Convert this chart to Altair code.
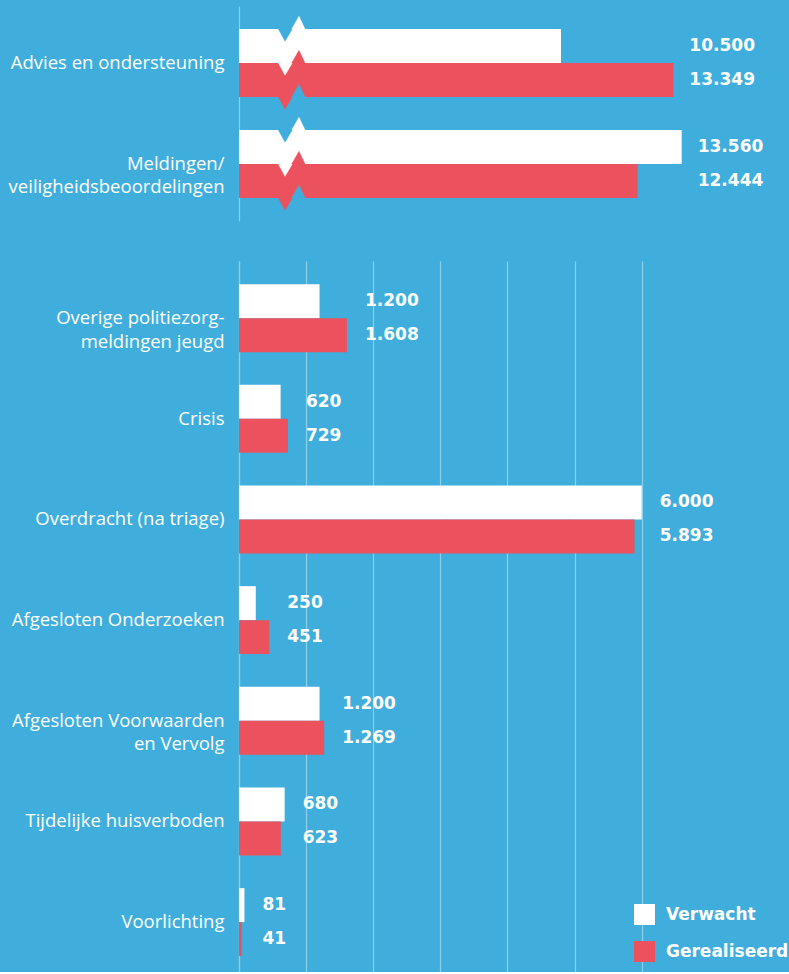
import altair as alt
import pandas as pd

BG = "#3FAEDC"
RED = "#EB525E"
WHITE = "#FFFFFF"
LINE = "#8ED0EC"
FONT = "Open Sans"
BOLD_FONT = "DejaVu Sans"

series = ["Verwacht", "Gerealiseerd"]

top_categories = ["Advies en ondersteuning", "Meldingen/\nveiligheidsbeoordelingen"]
top_verwacht = [10500, 13560]
top_gerealiseerd = [13349, 12444]

bottom_categories = [
    "Overige politiezorg-\nmeldingen jeugd",
    "Crisis",
    "Overdracht (na triage)",
    "Afgesloten Onderzoeken",
    "Afgesloten Voorwaarden\nen Vervolg",
    "Tijdelijke huisverboden",
    "Voorlichting",
]
bottom_verwacht = [1200, 620, 6000, 250, 1200, 680, 81]
bottom_gerealiseerd = [1608, 729, 5893, 451, 1269, 623, 41]

grid_values = [0, 1000, 2000, 3000, 4000, 5000, 6000]
top_domain = [2336, 16281]
bottom_domain = [0, 8194]
axis_break = 3680


def nl(v):
    return f"{v:,}".replace(",", ".")


def long_table(cats, verw, gereal):
    rows = []
    for c, a, b in zip(cats, verw, gereal):
        rows.append({"category": c, "series": series[0], "value": a, "label": nl(a)})
        rows.append({"category": c, "series": series[1], "value": b, "label": nl(b)})
    return pd.DataFrame(rows)


def y_axis():
    return alt.Axis(
        title=None, ticks=False, labelPadding=15, labelFont=FONT, labelFontSize=18.5,
        labelColor=WHITE, labelLineHeight=23.5, labelExpr="split(datum.label, '\\n')",
        domainColor=LINE, domainWidth=1.2, minExtent=239, maxExtent=239,
        labelLimit=0, grid=False,
    )


no_frame = alt.ViewBackground(stroke="transparent", strokeWidth=0)
color_scale = alt.Scale(domain=series, range=[WHITE, RED])
y_off = alt.YOffset("series:N", sort=series, scale=alt.Scale(domain=series))

# ---------------- top panel ----------------
top_df = long_table(top_categories, top_verwacht, top_gerealiseerd)
top_xscale = alt.Scale(domain=top_domain, nice=False, zero=False)
top_y = alt.Y("category:N", sort=top_categories, axis=y_axis(),
              scale=alt.Scale(paddingInner=0.327, paddingOuter=0.228, align=0.5))

top_bars = alt.Chart(top_df).mark_bar().encode(
    x=alt.X("value:Q", scale=top_xscale, axis=None),
    x2=alt.datum(top_domain[0]),
    y=top_y,
    yOffset=y_off,
    color=alt.Color("series:N", scale=color_scale, legend=None),
)

brk_df = pd.DataFrame({"category": top_categories, "brk": [axis_break] * len(top_categories)})
NOTCH = "M-13.7,0 L-7,12.3 L0.3,0 Z"
PEAK = "M-0.3,0 L7,-12.7 L13,0 Z"


def brk_layer(shape, col, off):
    return alt.Chart(brk_df).mark_point(
        shape=shape, size=4, filled=True, opacity=1, fill=col, stroke=col,
        strokeWidth=0.4, yOffset=off,
    ).encode(x=alt.X("brk:Q", scale=top_xscale, axis=None), y=top_y)


breaks = [
    brk_layer(NOTCH, BG, -34), brk_layer(PEAK, WHITE, -34),
    brk_layer(NOTCH, WHITE, 0), brk_layer(PEAK, RED, 0),
    brk_layer(NOTCH, RED, 34), brk_layer(PEAK, BG, 34),
]

top_text = alt.Chart(top_df).transform_joinaggregate(
    maxv="max(value)", groupby=["category"]
).mark_text(align="left", baseline="middle", dx=16, font=BOLD_FONT, fontSize=17,
            fontWeight="bold", color=WHITE).encode(
    x=alt.X("maxv:Q", scale=top_xscale, axis=None),
    y=top_y,
    yOffset=y_off,
    text="label:N",
)

top = alt.layer(top_bars, *breaks, top_text).properties(
    width=550, height=215, view=no_frame
)

# ---------------- bottom panel ----------------
bot_df = long_table(bottom_categories, bottom_verwacht, bottom_gerealiseerd)
bot_xscale = alt.Scale(domain=bottom_domain, nice=False)
bot_xaxis = alt.Axis(values=grid_values, labels=False, ticks=False, domain=False,
                     grid=True, gridColor=LINE, gridWidth=1.2, title=None)
bot_y = alt.Y("category:N", sort=bottom_categories, axis=y_axis(),
              scale=alt.Scale(paddingInner=0.327, paddingOuter=0.195, align=0.59))

bot_bars = alt.Chart(bot_df).mark_bar().encode(
    x=alt.X("value:Q", scale=bot_xscale, axis=bot_xaxis),
    y=bot_y,
    yOffset=y_off,
    color=alt.Color(
        "series:N", scale=color_scale,
        legend=alt.Legend(
            title=None, orient="none", legendX=395, legendY=643, symbolType="square",
            symbolSize=441, symbolStrokeWidth=0, symbolOpacity=1, labelFont=BOLD_FONT,
            labelFontSize=17, labelFontWeight="bold", labelColor=WHITE, labelOffset=11,
            rowPadding=16, padding=0, direction="vertical",
        ),
    ),
)

bot_text = alt.Chart(bot_df).transform_joinaggregate(
    maxv="max(value)", groupby=["category"]
).mark_text(align="left", baseline="middle", dx=18, font=BOLD_FONT, fontSize=17,
            fontWeight="bold", color=WHITE).encode(
    x=alt.X("maxv:Q", scale=bot_xscale, axis=bot_xaxis),
    y=bot_y,
    yOffset=y_off,
    text="label:N",
)

bottom = alt.layer(bot_bars, bot_text).properties(width=550, height=711, view=no_frame)

chart = alt.vconcat(top, bottom, spacing=40).resolve_scale(
    x="independent", y="independent"
).resolve_legend(color="independent").properties(
    background=BG, padding={"top": 6, "left": 0, "right": 0, "bottom": 0}
).configure_view(strokeWidth=0).configure(font=FONT)

chart.save("out.html", embed_options={"renderer": "svg", "actions": False})
